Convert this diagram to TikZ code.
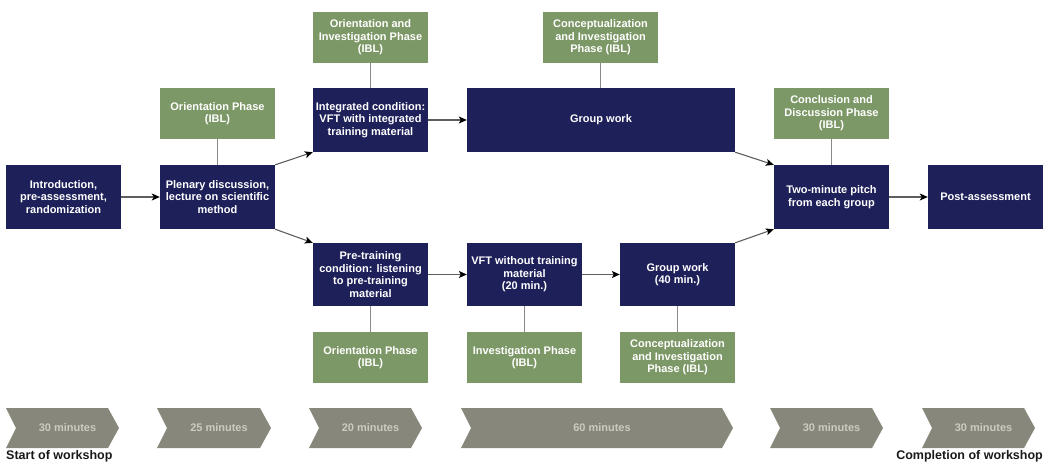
\documentclass[tikz,border=0pt]{standalone}
\usepackage{fontspec}
\setmainfont{Liberation Sans}
\usetikzlibrary{arrows.meta}
\definecolor{navy}{HTML}{1E2059}
\definecolor{phase}{HTML}{7D9867}
\definecolor{chev}{HTML}{87887B}
\definecolor{chevtext}{HTML}{CBCBC3}
\definecolor{conn}{HTML}{5E5E5E}
\definecolor{vconn}{HTML}{8A8A8A}
\begin{document}
\begin{tikzpicture}[x=1pt,y=-1pt,
  box/.style={fill=navy, text=white, font=\bfseries\fontsize{11}{12.5}\selectfont, align=center, inner sep=1pt, minimum width=115pt, minimum height=64pt},
  phasebox/.style={fill=phase, text=white, font=\bfseries\fontsize{11}{12.5}\selectfont, align=center, inner sep=1pt, minimum width=115pt, minimum height=51pt},
  arr/.style={draw=conn, line width=1.1pt, -{Stealth[length=8pt,width=7pt,inset=2pt,color=black]}},
  vline/.style={draw=vconn, line width=1.1pt},
  chevfill/.style={fill=chev},
  chevlabel/.style={text=chevtext, font=\bfseries\fontsize{11}{13}\selectfont, inner sep=0pt},
  endlabel/.style={text=black!90, font=\bfseries\fontsize{12.5}{14}\selectfont, inner sep=0pt}
]
\useasboundingbox (0,0) rectangle (1051,463);

% main flow boxes
\node[box] (intro) at (63.5,197) {Introduction,\\pre-assessment,\\randomization};
\node[box] (plen) at (217.5,197) {Plenary discussion,\\lecture on scientific\\method};
\node[box] (integ) at (370.5,120) {Integrated condition:\\VFT with integrated\\training material};
\node[box, minimum width=268pt] (gtop) at (601,120) {Group work};
\node[box, minimum height=63pt] (pre) at (370.5,274.5) {Pre-training\\condition: listening\\to pre-training\\material};
\node[box, minimum height=63pt] (vft) at (524.5,274.5) {VFT without training\\material\\(20 min.)};
\node[box, minimum height=63pt] (g40) at (677.5,274.5) {Group work\\(40 min.)};
\node[box] (pitch) at (831.5,197) {Two-minute pitch\\from each group};
\node[box] (post) at (985.5,197) {Post-assessment};

% phase boxes
\node[phasebox] (p1) at (217.5,113.5) {Orientation Phase\\(IBL)};
\node[phasebox] (p2) at (370.5,37.5) {Orientation and\\Investigation Phase\\(IBL)};
\node[phasebox] (p3) at (600.5,37.5) {Conceptualization\\and Investigation\\Phase (IBL)};
\node[phasebox] (p4) at (370.5,357.5) {Orientation Phase\\(IBL)};
\node[phasebox] (p5) at (524.5,357.5) {Investigation Phase\\(IBL)};
\node[phasebox] (p6) at (677.5,357.5) {Conceptualization\\and Investigation\\Phase (IBL)};
\node[phasebox] (p7) at (831.5,113.5) {Conclusion and\\Discussion Phase\\(IBL)};

% vertical connectors
\draw[vline] (p1.south) -- (plen.north);
\draw[vline] (p2.south) -- (integ.north);
\draw[vline] (p3.south) -- (p3.south |- gtop.north);
\draw[vline] (p4.north) -- (pre.south);
\draw[vline] (p5.north) -- (vft.south);
\draw[vline] (p6.north) -- (g40.south);
\draw[vline] (p7.south) -- (pitch.north);

% arrows
\draw[arr] (intro) -- (plen);
\draw[arr] (plen.north east) -- (integ.south west);
\draw[arr] (plen.south east) -- (pre.north west);
\draw[arr] (integ) -- (gtop);
\draw[arr] (pre.east) -- (vft.west);
\draw[arr] (vft.east) -- (g40.west);
\draw[arr] (gtop.south east) -- (pitch.north west);
\draw[arr] (g40.north east) -- (pitch.south west);
\draw[arr] (pitch) -- (post);

% timeline chevrons
\newcommand{\chevronshape}[4]{%
  \fill[chevfill] (#1,408) -- ({#2-11},408) -- (#2,428) -- ({#2-11},448) -- (#1,448) -- ({#1+10},428) -- cycle;
  \node[chevlabel] (#4) at ({(#1+10+#2)/2},428) {#3};}
\chevronshape{6}{119}{30 minutes}{t1}
\chevronshape{157}{271}{25 minutes}{t2}
\chevronshape{309}{422}{20 minutes}{t3}
\chevronshape{461}{733}{60 minutes}{t4}
\chevronshape{770}{883}{30 minutes}{t5}
\chevronshape{922}{1035}{30 minutes}{t6}

\node[endlabel, anchor=west] (start) at (6,456) {Start of workshop};
\node[endlabel, anchor=east] (end) at (1043,456) {Completion of workshop};
\end{tikzpicture}
\end{document}
